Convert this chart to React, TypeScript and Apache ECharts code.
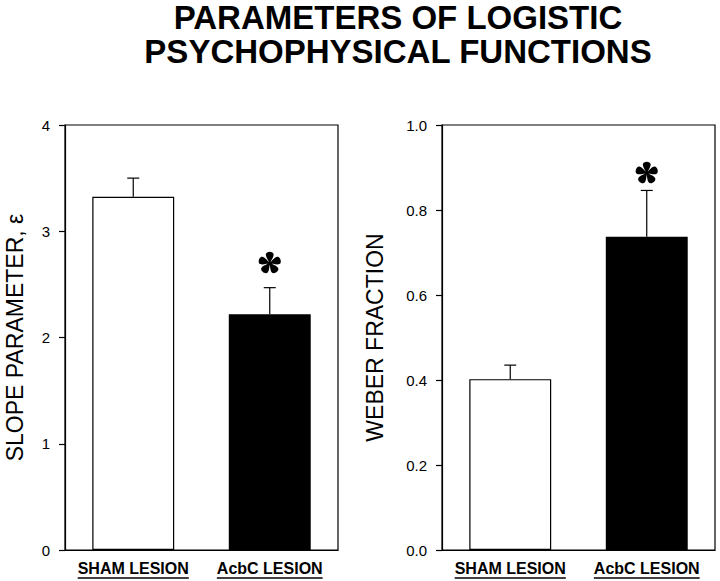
import React, { useEffect, useRef } from "react";
import * as echarts from "echarts";

const categories = ["SHAM LESION", "AcbC LESION"];
const slopeValues = [3.325, 2.218];
const slopeErrors = [0.175, 0.251];
const weberValues = [0.402, 0.737];
const weberErrors = [0.033, 0.109];
const slopeStars = [[1, 2.7]];
const weberStars = [[1, 0.887]];
const slopeTicks = { min: 0, max: 4, interval: 1 };
const weberTicks = { min: 0, max: 1, interval: 0.2 };

const FONT = "'Liberation Sans', Arial, Helvetica, sans-serif";
const LABEL_FONT_SIZE = 16;

// five teardrop petals (asterisk glyph), centred on 0,0
function asteriskPath(scale: number): string {
  const petal = [
    [0, 0.6],
    [-1.0, -2.0], [-3.9, -5.8], [-3.7, -8.4],
    [-3.4, -11.6], [3.4, -11.6], [3.7, -8.4],
    [3.9, -5.8], [1.0, -2.0], [0, 0.6],
  ];
  let d = "";
  for (let k = 0; k < 5; k++) {
    const a = (k * 72 * Math.PI) / 180;
    const c = Math.cos(a), s = Math.sin(a);
    const p = petal.map(([x, y]) => [
      ((x * c - y * s) * scale).toFixed(2),
      ((x * s + y * c) * scale).toFixed(2),
    ]);
    d += `M${p[0][0]} ${p[0][1]}C${p[1][0]} ${p[1][1]} ${p[2][0]} ${p[2][1]} ${p[3][0]} ${p[3][1]}`;
    d += `C${p[4][0]} ${p[4][1]} ${p[5][0]} ${p[5][1]} ${p[6][0]} ${p[6][1]}`;
    d += `C${p[7][0]} ${p[7][1]} ${p[8][0]} ${p[8][1]} ${p[9][0]} ${p[9][1]}Z`;
  }
  return d;
}
const STAR_PATH = asteriskPath(1.05);

export default function App() {
  const ref = useRef<HTMLDivElement>(null);
  useEffect(() => {
    if (!ref.current) return;
    const chart = echarts.init(ref.current, undefined, { renderer: "svg" });

    const grids = [
      { left: 65, top: 125, width: 273, height: 425 },
      { left: 442, top: 125, width: 273, height: 425 },
    ];

    const errSeries = (idx: number, vals: number[], errs: number[]) => ({
      type: "custom",
      xAxisIndex: idx,
      yAxisIndex: idx,
      z: 5,
      data: vals.map((v, i) => [i, v, errs[i]]),
      renderItem: (params: any, api: any) => {
        const x = api.value(0);
        const v = api.value(1);
        const e = api.value(2);
        const p0 = api.coord([x, v]);
        const p1 = api.coord([x, v + e]);
        return {
          type: "group",
          children: [
            {
              type: "line",
              shape: { x1: p0[0], y1: p0[1], x2: p1[0], y2: p1[1] },
              style: { stroke: "#000", lineWidth: 1.2 },
            },
            {
              type: "line",
              shape: { x1: p1[0] - 6, y1: p1[1], x2: p1[0] + 6, y2: p1[1] },
              style: { stroke: "#000", lineWidth: 1.2 },
            },
          ],
        };
      },
    });

    const starSeries = (idx: number, pts: number[][]) => ({
      type: "custom",
      xAxisIndex: idx,
      yAxisIndex: idx,
      z: 6,
      data: pts,
      renderItem: (params: any, api: any) => {
        const p = api.coord([api.value(0), api.value(1)]);
        return {
          type: "path",
          x: p[0],
          y: p[1],
          shape: { pathData: STAR_PATH },
          style: { fill: "#000" },
        };
      },
    });

    const barSeries = (idx: number, vals: number[]) => ({
      type: "bar",
      xAxisIndex: idx,
      yAxisIndex: idx,
      barWidth: "60%",
      data: vals.map((v, i) => ({
        value: v,
        itemStyle: {
          color: i === 0 ? "#fff" : "#000",
          borderColor: "#000",
          borderWidth: 1.2,
        },
      })),
    });

    const xAxis = (idx: number) => ({
      type: "category",
      gridIndex: idx,
      data: categories,
      axisLine: { lineStyle: { color: "#000", width: 1.2 } },
      axisTick: { show: false },
      axisLabel: {
        interval: 0,
        color: "#000",
        fontFamily: FONT,
        fontWeight: "bold",
        fontSize: LABEL_FONT_SIZE,
        margin: 10,
      },
    });

    const yAxis = (idx: number, t: any, name: string, gap: number, fmt: (v: number) => string) => ({
      type: "value",
      gridIndex: idx,
      min: t.min,
      max: t.max,
      interval: t.interval,
      name,
      nameLocation: "middle",
      nameGap: gap,
      nameTextStyle: { color: "#000", fontFamily: FONT, fontSize: 23 },
      axisLine: { show: true, lineStyle: { color: "#000", width: 1.2 } },
      axisTick: { show: true, length: 6, lineStyle: { color: "#000", width: 1.2 } },
      splitLine: { show: false },
      axisLabel: {
        color: "#000",
        fontFamily: FONT,
        fontSize: 15,
        margin: 15,
        formatter: fmt,
      },
    });

    chart.setOption({
      animation: false,
      backgroundColor: "#fff",
      title: {
        text: "PARAMETERS OF LOGISTIC\nPSYCHOPHYSICAL FUNCTIONS",
        left: 398,
        top: 0,
        padding: 0,
        textAlign: "center",
        textStyle: {
          fontFamily: FONT,
          fontWeight: "bold",
          fontSize: 33,
          lineHeight: 34,
          color: "#000",
        },
      },
      grid: grids.map((g) => ({
        ...g,
        show: true,
        borderColor: "#000",
        borderWidth: 1.2,
        backgroundColor: "transparent",
      })),
      xAxis: [xAxis(0), xAxis(1)],
      yAxis: [
        yAxis(0, slopeTicks, "SLOPE PARAMETER, ε", 39, (v: number) => String(v)),
        yAxis(1, weberTicks, "WEBER FRACTION", 56, (v: number) => v.toFixed(1)),
      ],
      series: [
        barSeries(0, slopeValues),
        errSeries(0, slopeValues, slopeErrors),
        starSeries(0, slopeStars),
        barSeries(1, weberValues),
        errSeries(1, weberValues, weberErrors),
        starSeries(1, weberStars),
      ],
    });

    // underline the category labels
    const canvas = document.createElement("canvas");
    const ctx = canvas.getContext("2d");
    const lines: any[] = [];
    if (ctx) {
      ctx.font = `bold ${LABEL_FONT_SIZE}px ${FONT}`;
      [0, 1].forEach((gi) => {
        categories.forEach((c) => {
          const px = chart.convertToPixel({ xAxisIndex: gi }, c) as number;
          const w = ctx.measureText(c).width;
          const y = grids[gi].top + grids[gi].height + 28;
          lines.push({
            type: "line",
            shape: { x1: px - w / 2, y1: y, x2: px + w / 2, y2: y },
            style: { stroke: "#000", lineWidth: 1.5 },
          });
        });
      });
    }
    chart.setOption({ graphic: lines });

    return () => chart.dispose();
  }, []);
  return (
    <div
      ref={ref}
      style={{ position: "fixed", left: 0, top: 0, width: 720, height: 581 }}
    />
  );
}
